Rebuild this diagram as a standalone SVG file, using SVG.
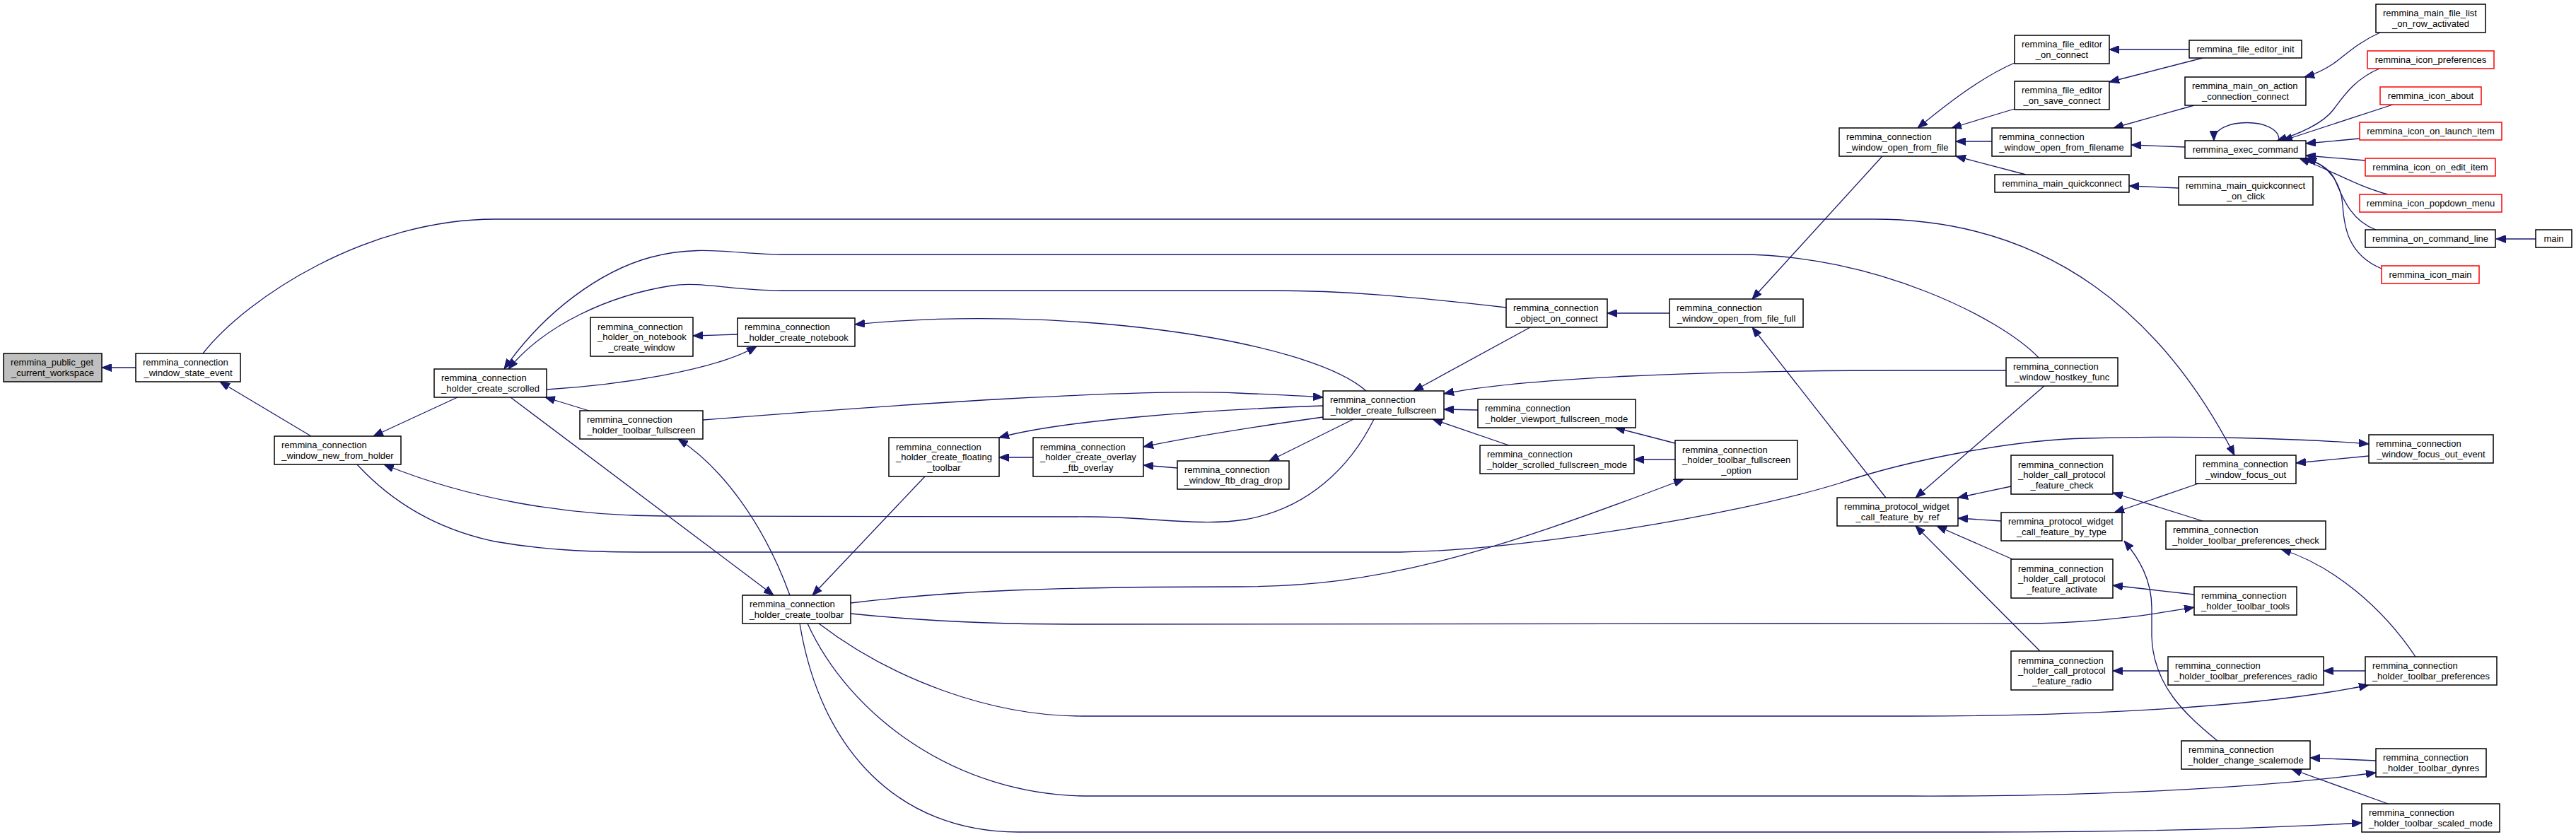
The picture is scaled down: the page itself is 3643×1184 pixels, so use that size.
<svg xmlns="http://www.w3.org/2000/svg" width="3643" height="1184" viewBox="0 0 3643 1184">
<style>
.node rect{fill:#fff;stroke:#000;stroke-width:1.5}
.node.g rect{fill:#bfbfbf}
.node.r rect{stroke:#f00}
text{font-family:"Liberation Sans",Arial,sans-serif;font-size:13px;fill:#000}
.m{text-anchor:middle}
#edges path{fill:none;stroke:#191970;stroke-width:1.3;marker-end:url(#a)}
</style>
<defs>
<marker id="a" markerWidth="14" markerHeight="11" refX="14" refY="5.5" orient="auto" markerUnits="userSpaceOnUse"><path d="M0,0 L14,5.5 L0,11 z" fill="#191970" stroke="#191970" stroke-width="1"/></marker>
</defs>
<rect width="3643" height="1184" fill="#fff"/>
<g id="edges">
<path d="M192,520 L144,520"/>
<path d="M287,500 C350,420 520,310 700,310 L2650,310 C2900,310 3060,450 3160,644"/>
<path d="M440,617 L311,540"/>
<path d="M647,562 L528,617"/>
<path d="M2883,506 C2830,450 2650,360 2460,360 L1110,360 C1040,360 990,345 920,364 C850,383 770,440 713,522"/>
<path d="M2130,435 C2000,420 1900,411 1800,411 L1105,411 C1040,411 990,398 950,404 C860,418 770,460 719,522"/>
<path d="M773,551 C870,545 1010,525 1070,490"/>
<path d="M1043,473 L980,475"/>
<path d="M833,581 L771,562"/>
<path d="M722,562 L1094,842"/>
<path d="M1117,842 C1080,740 1020,660 959,621"/>
<path d="M1308,674 L1149,842"/>
<path d="M994,594 C1300,570 1600,550 1750,556 C1800,558 1840,560 1871,562"/>
<path d="M1871,574 C1700,580 1500,595 1413,619"/>
<path d="M1871,590 C1800,600 1700,615 1617,632"/>
<path d="M1914,593 L1795,652"/>
<path d="M1943,593 C1910,660 1850,720 1760,735 C1700,745 1620,731 1540,731 L940,730 C800,730 660,705 543,657"/>
<path d="M505,657 C540,695 600,745 700,766 C780,780 850,781 920,781 L1980,781 C2150,778 2450,730 2600,684 C2700,650 2850,622 2950,620 C3100,616 3250,620 3350,628"/>
<path d="M1203,853 C1350,835 1500,830 1750,830 C1950,830 2100,785 2381,678"/>
<path d="M1203,868 C1300,878 1400,883 1516,883 L2880,882 C2980,880 3050,868 3103,859"/>
<path d="M1158,882 C1260,960 1400,1013 1530,1013 L2700,1013 C2950,1013 3200,1000 3350,969"/>
<path d="M1142,882 C1200,1010 1350,1126 1540,1126 L2700,1126 C2950,1127 3200,1115 3360,1093"/>
<path d="M1131,882 C1160,1060 1270,1177 1440,1177 L2800,1177 C3000,1177 3200,1172 3340,1164"/>
<path d="M2090,580 L2042,579"/>
<path d="M2134,630 L2026,593"/>
<path d="M2369,627 L2284,605"/>
<path d="M2369,650 L2311,650"/>
<path d="M2164,463 L1999,553"/>
<path d="M2361,443 L2273,443"/>
<path d="M2662,221 L2478,423"/>
<path d="M2667,704 L2478,463"/>
<path d="M2837,524 L2700,524 C2400,524 2150,535 2042,557"/>
<path d="M2891,546 L2709,704"/>
<path d="M2830,737 L2769,733"/>
<path d="M2844,688 L2769,704"/>
<path d="M2846,791 L2739,744"/>
<path d="M2885,921 L2709,744"/>
<path d="M3109,684 L2990,725"/>
<path d="M3115,737 L2988,697"/>
<path d="M3103,841 L2988,828"/>
<path d="M3066,949 L2988,949"/>
<path d="M3345,949 L3286,949"/>
<path d="M3416,929 C3370,860 3300,800 3226,777"/>
<path d="M3136,1048 C3090,1010 3045,970 3043,900 L3043,860 C3043,820 3025,790 3004,765"/>
<path d="M3360,1076 L3267,1072"/>
<path d="M3377,1137 L3241,1088"/>
<path d="M3350,645 L3247,655"/>
<path d="M2849,89 C2800,110 2750,150 2712,181"/>
<path d="M2849,154 L2760,181"/>
<path d="M2817,200 L2766,200"/>
<path d="M2865,247 L2766,221"/>
<path d="M3096,70 L2983,70"/>
<path d="M3115,82 L2983,116"/>
<path d="M3103,149 L2989,181"/>
<path d="M3090,208 L3014,205"/>
<path d="M3081,266 L3011,263"/>
<path d="M3366,46 C3335,60 3320,75 3300,90 C3285,100 3270,106 3259,109"/>
<path d="M3223,199 C3225,165 3130,165 3131,199"/>
<path d="M3365,97 C3330,112 3315,135 3300,155 C3285,175 3250,190 3220,199"/>
<path d="M3384,148 L3228,199"/>
<path d="M3337,196 L3261,203"/>
<path d="M3345,227 L3261,220"/>
<path d="M3377,275 C3330,262 3295,240 3252,224"/>
<path d="M3360,325 C3320,310 3310,270 3300,250 C3290,235 3275,228 3258,224"/>
<path d="M3368,380 C3320,360 3315,320 3313,290 C3311,260 3295,235 3262,224"/>
<path d="M3586,338 L3530,338"/>
<path d="M1665,662 L1617,658"/>
<path d="M1461,647 L1413,647"/>
<path d="M1932,553 C1850,480 1500,430 1209,459"/>
</g>
<g id="n_gray" class="node g"><rect x="5" y="500" width="139" height="40"/><text x="15" y="517">remmina_public_get</text><text class="m" x="74.5" y="532">_current_workspace</text></g>
<g id="n_state" class="node"><rect x="192" y="500" width="148" height="40"/><text x="202" y="517">remmina_connection</text><text class="m" x="266" y="532">_window_state_event</text></g>
<g id="n_newholder" class="node"><rect x="388" y="617" width="179" height="40"/><text x="398" y="634">remmina_connection</text><text class="m" x="477.5" y="649">_window_new_from_holder</text></g>
<g id="n_scrolled" class="node"><rect x="614" y="522" width="159" height="40"/><text x="624" y="539">remmina_connection</text><text class="m" x="693.5" y="554">_holder_create_scrolled</text></g>
<g id="n_nbwin" class="node"><rect x="835" y="449" width="145" height="55"/><text x="845" y="466.5">remmina_connection</text><text x="845" y="481">_holder_on_notebook</text><text class="m" x="907.5" y="495.5">_create_window</text></g>
<g id="n_tbfs" class="node"><rect x="820" y="581" width="174" height="40"/><text x="830" y="598">remmina_connection</text><text class="m" x="907" y="613">_holder_toolbar_fullscreen</text></g>
<g id="n_notebook" class="node"><rect x="1043" y="450" width="166" height="40"/><text x="1053" y="467">remmina_connection</text><text class="m" x="1126" y="482">_holder_create_notebook</text></g>
<g id="n_toolbar" class="node"><rect x="1050" y="842" width="153" height="40"/><text x="1060" y="859">remmina_connection</text><text class="m" x="1126.5" y="874">_holder_create_toolbar</text></g>
<g id="n_floating" class="node"><rect x="1257" y="619" width="156" height="55"/><text x="1267" y="636.5">remmina_connection</text><text x="1267" y="651">_holder_create_floating</text><text class="m" x="1335" y="665.5">_toolbar</text></g>
<g id="n_overlay" class="node"><rect x="1461" y="619" width="156" height="55"/><text x="1471" y="636.5">remmina_connection</text><text x="1471" y="651">_holder_create_overlay</text><text class="m" x="1539" y="665.5">_ftb_overlay</text></g>
<g id="n_dragdrop" class="node"><rect x="1665" y="652" width="158" height="40"/><text x="1675" y="669">remmina_connection</text><text class="m" x="1744" y="684">_window_ftb_drag_drop</text></g>
<g id="n_fullscreen" class="node"><rect x="1871" y="553" width="171" height="40"/><text x="1881" y="570">remmina_connection</text><text class="m" x="1956.5" y="585">_holder_create_fullscreen</text></g>
<g id="n_objconn" class="node"><rect x="2130" y="423" width="143" height="40"/><text x="2140" y="440">remmina_connection</text><text class="m" x="2201.5" y="455">_object_on_connect</text></g>
<g id="n_full" class="node"><rect x="2361" y="423" width="189" height="40"/><text x="2371" y="440">remmina_connection</text><text class="m" x="2455.5" y="455">_window_open_from_file_full</text></g>
<g id="n_viewport" class="node"><rect x="2090" y="565" width="223" height="40"/><text x="2100" y="582">remmina_connection</text><text class="m" x="2201.5" y="597">_holder_viewport_fullscreen_mode</text></g>
<g id="n_scrolledfs" class="node"><rect x="2093" y="630" width="218" height="40"/><text x="2103" y="647">remmina_connection</text><text class="m" x="2202" y="662">_holder_scrolled_fullscreen_mode</text></g>
<g id="n_option" class="node"><rect x="2369" y="623" width="173" height="55"/><text x="2379" y="640.5">remmina_connection</text><text x="2379" y="655">_holder_toolbar_fullscreen</text><text class="m" x="2455.5" y="669.5">_option</text></g>
<g id="n_byref" class="node"><rect x="2598" y="704" width="171" height="40"/><text x="2608" y="721">remmina_protocol_widget</text><text class="m" x="2683.5" y="736">_call_feature_by_ref</text></g>
<g id="n_openfile" class="node"><rect x="2601" y="181" width="165" height="40"/><text x="2611" y="198">remmina_connection</text><text class="m" x="2683.5" y="213">_window_open_from_file</text></g>
<g id="n_edconn" class="node"><rect x="2849" y="50" width="134" height="40"/><text x="2859" y="67">remmina_file_editor</text><text class="m" x="2916" y="82">_on_connect</text></g>
<g id="n_edsave" class="node"><rect x="2849" y="115" width="134" height="40"/><text x="2859" y="132">remmina_file_editor</text><text class="m" x="2916" y="147">_on_save_connect</text></g>
<g id="n_edinit" class="node"><rect x="3096" y="57" width="159" height="25"/><text class="m" x="3175.5" y="74">remmina_file_editor_init</text></g>
<g id="n_filename" class="node"><rect x="2817" y="181" width="197" height="40"/><text x="2827" y="198">remmina_connection</text><text class="m" x="2915.5" y="213">_window_open_from_filename</text></g>
<g id="n_quick" class="node"><rect x="2821" y="247" width="190" height="25"/><text class="m" x="2916" y="264">remmina_main_quickconnect</text></g>
<g id="n_action" class="node"><rect x="3090" y="109" width="171" height="40"/><text x="3100" y="126">remmina_main_on_action</text><text class="m" x="3175.5" y="141">_connection_connect</text></g>
<g id="n_exec" class="node"><rect x="3090" y="199" width="171" height="25"/><text class="m" x="3175.5" y="216">remmina_exec_command</text></g>
<g id="n_onclick" class="node"><rect x="3081" y="250" width="190" height="40"/><text x="3091" y="267">remmina_main_quickconnect</text><text class="m" x="3176" y="282">_on_click</text></g>
<g id="n_filelist" class="node"><rect x="3360" y="6" width="155" height="40"/><text x="3370" y="23">remmina_main_file_list</text><text class="m" x="3437.5" y="38">_on_row_activated</text></g>
<g id="n_ipref" class="node r"><rect x="3348" y="72" width="179" height="25"/><text class="m" x="3437.5" y="89">remmina_icon_preferences</text></g>
<g id="n_iabout" class="node r"><rect x="3366" y="123" width="143" height="25"/><text class="m" x="3437.5" y="140">remmina_icon_about</text></g>
<g id="n_ilaunch" class="node r"><rect x="3337" y="173" width="201" height="25"/><text class="m" x="3437.5" y="190">remmina_icon_on_launch_item</text></g>
<g id="n_iedit" class="node r"><rect x="3345" y="224" width="184" height="25"/><text class="m" x="3437" y="241">remmina_icon_on_edit_item</text></g>
<g id="n_ipopdown" class="node r"><rect x="3337" y="275" width="201" height="25"/><text class="m" x="3437.5" y="292">remmina_icon_popdown_menu</text></g>
<g id="n_cmdline" class="node"><rect x="3345" y="325" width="184" height="25"/><text class="m" x="3437" y="342">remmina_on_command_line</text></g>
<g id="n_main" class="node"><rect x="3586" y="325" width="51" height="25"/><text class="m" x="3611.5" y="342">main</text></g>
<g id="n_imain" class="node r"><rect x="3368" y="376" width="138" height="25"/><text class="m" x="3437" y="393">remmina_icon_main</text></g>
<g id="n_hostkey" class="node"><rect x="2837" y="506" width="158" height="40"/><text x="2847" y="523">remmina_connection</text><text class="m" x="2916" y="538">_window_hostkey_func</text></g>
<g id="n_foevent" class="node"><rect x="3350" y="615" width="176" height="40"/><text x="3360" y="632">remmina_connection</text><text class="m" x="3438" y="647">_window_focus_out_event</text></g>
<g id="n_fo" class="node"><rect x="3105" y="644" width="142" height="40"/><text x="3115" y="661">remmina_connection</text><text class="m" x="3176" y="676">_window_focus_out</text></g>
<g id="n_fcheck" class="node"><rect x="2844" y="644" width="144" height="55"/><text x="2854" y="661.5">remmina_connection</text><text x="2854" y="676">_holder_call_protocol</text><text class="m" x="2916" y="690.5">_feature_check</text></g>
<g id="n_bytype" class="node"><rect x="2830" y="725" width="171" height="40"/><text x="2840" y="742">remmina_protocol_widget</text><text class="m" x="2915.5" y="757">_call_feature_by_type</text></g>
<g id="n_pcheck" class="node"><rect x="3063" y="737" width="226" height="40"/><text x="3073" y="754">remmina_connection</text><text class="m" x="3176" y="769">_holder_toolbar_preferences_check</text></g>
<g id="n_factivate" class="node"><rect x="2844" y="791" width="144" height="55"/><text x="2854" y="808.5">remmina_connection</text><text x="2854" y="823">_holder_call_protocol</text><text class="m" x="2916" y="837.5">_feature_activate</text></g>
<g id="n_tools" class="node"><rect x="3103" y="830" width="145" height="40"/><text x="3113" y="847">remmina_connection</text><text class="m" x="3175.5" y="862">_holder_toolbar_tools</text></g>
<g id="n_fradio" class="node"><rect x="2844" y="921" width="144" height="55"/><text x="2854" y="938.5">remmina_connection</text><text x="2854" y="953">_holder_call_protocol</text><text class="m" x="2916" y="967.5">_feature_radio</text></g>
<g id="n_pradio" class="node"><rect x="3066" y="929" width="220" height="40"/><text x="3076" y="946">remmina_connection</text><text class="m" x="3176" y="961">_holder_toolbar_preferences_radio</text></g>
<g id="n_prefs" class="node"><rect x="3345" y="929" width="186" height="40"/><text x="3355" y="946">remmina_connection</text><text class="m" x="3438" y="961">_holder_toolbar_preferences</text></g>
<g id="n_scalemode" class="node"><rect x="3085" y="1048" width="182" height="40"/><text x="3095" y="1065">remmina_connection</text><text class="m" x="3176" y="1080">_holder_change_scalemode</text></g>
<g id="n_dynres" class="node"><rect x="3360" y="1059" width="156" height="40"/><text x="3370" y="1076">remmina_connection</text><text class="m" x="3438" y="1091">_holder_toolbar_dynres</text></g>
<g id="n_scaled" class="node"><rect x="3340" y="1137" width="195" height="40"/><text x="3350" y="1154">remmina_connection</text><text class="m" x="3437.5" y="1169">_holder_toolbar_scaled_mode</text></g>
</svg>
